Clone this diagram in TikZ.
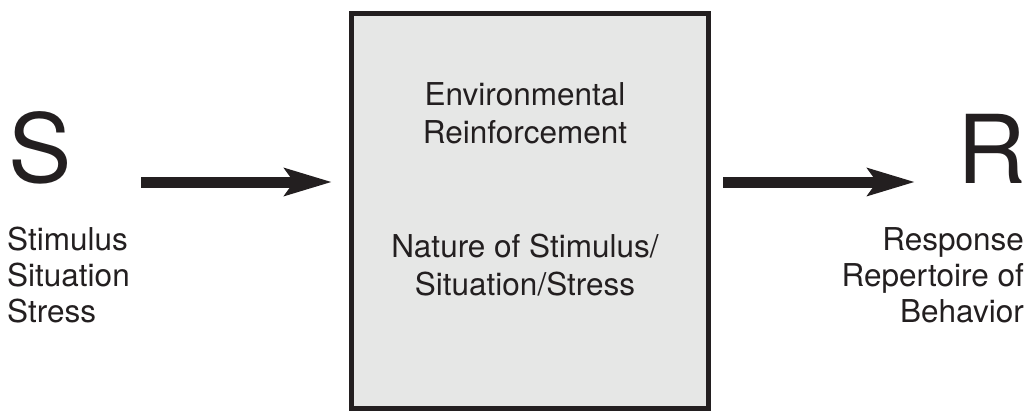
\documentclass[tikz,border=0pt]{standalone}
\usepackage{fontspec}
\setmainfont{TeX Gyre Heros}
\usetikzlibrary{arrows.meta}

\definecolor{ink}{RGB}{35,31,32}
\definecolor{boxgray}{RGB}{230,231,230}

\begin{document}
\begin{tikzpicture}[x=1pt, y=-1pt,
    letter/.style={inner sep=0pt, text=ink, font=\fontsize{95}{95}\selectfont},
    caption/.style={inner sep=0pt, text=ink, font=\fontsize{31.5}{36}\selectfont},
    boxtext/.style={inner sep=0pt, text=ink, align=center, font=\fontsize{31.5}{38}\selectfont},
    arr/.style={draw=ink, line width=11pt,
      -{Stealth[length=47pt, width=27pt, inset=9pt]}},
  ]
  \useasboundingbox (0,0) rectangle (1031,412);

  % central block (multi-line nodes are placed by the baseline of their last line)
  \node[draw=ink, fill=boxgray, line width=5pt, inner sep=0pt,
        minimum width=357pt, minimum height=395pt] (box) at (530,211) {};
  \node[boxtext, anchor=base] (env) at (525,143) {Environmental\\Reinforcement};
  \node[boxtext, anchor=base] (nat) at (525,295) {Nature of Stimulus/\\Situation/Stress};

  % stimulus side
  \node[letter, anchor=base west] (S) at (8,182) {S};
  \node[caption, anchor=base west, align=left] (stim) at (7,322) {Stimulus\\Situation\\Stress};

  % response side
  \node[letter, anchor=base west] (R) at (957.5,183) {R};
  \node[caption, anchor=base east, align=right] (resp) at (1024,322) {Response\\Repertoire of\\Behavior};

  % connectors
  \coordinate (inL) at (141,182);
  \coordinate (outR) at (915,182);
  \draw[arr, shorten >=17pt] (inL) -- (inL -| box.west);
  \draw[arr, shorten <=12pt] (outR -| box.east) -- (outR);
\end{tikzpicture}
\end{document}
